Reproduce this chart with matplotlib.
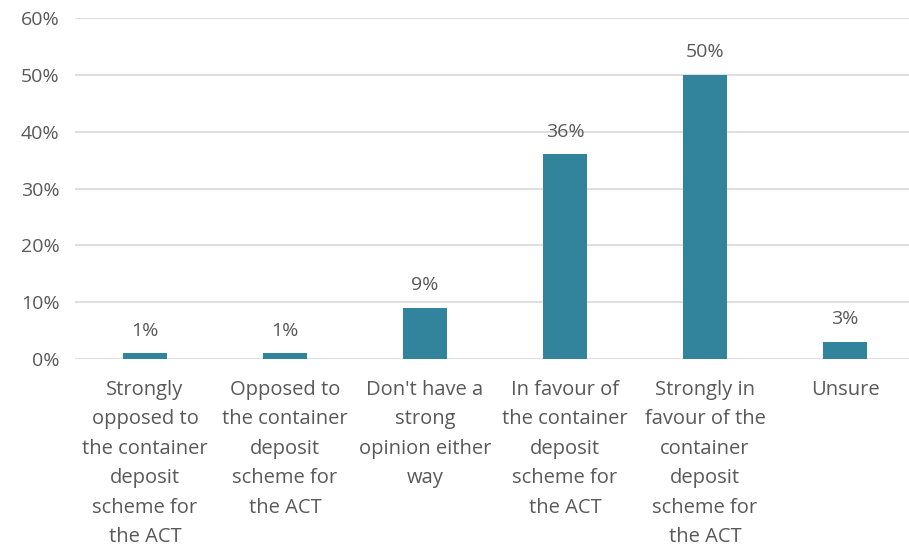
import matplotlib
matplotlib.use("Agg")
import matplotlib.pyplot as plt
from matplotlib.ticker import FuncFormatter

categories = [
    "Strongly\nopposed to\nthe container\ndeposit\nscheme for\nthe ACT",
    "Opposed to\nthe container\ndeposit\nscheme for\nthe ACT",
    "Don't have a\nstrong\nopinion either\nway",
    "In favour of\nthe container\ndeposit\nscheme for\nthe ACT",
    "Strongly in\nfavour of the\ncontainer\ndeposit\nscheme for\nthe ACT",
    "Unsure",
]
values = [1, 1, 9, 36, 50, 3]
value_labels = ["1%", "1%", "9%", "36%", "50%", "3%"]

plt.rcParams['font.family'] = ['Open Sans', 'DejaVu Sans']
txt = '#595959'
bar_col = '#31849B'

fig = plt.figure(figsize=(9.09, 5.47), dpi=100)
ax = fig.add_axes([75/909, 1 - 359/547, 840/909, (359-18)/547])

x = range(len(values))
ax.bar(x, values, width=0.315, color=bar_col, zorder=3)
for xi, v, lab in zip(x, values, value_labels):
    ax.text(xi, v + 2.4, lab, ha='center', va='bottom', fontsize=14, color=txt)

ax.set_xlim(-0.5, len(values) - 0.5)
ax.set_ylim(0, 60)
ax.set_yticks(range(0, 61, 10))
ax.yaxis.set_major_formatter(FuncFormatter(lambda v, p: f"{int(v)}%"))
ax.grid(axis='y', color='#D9D9D9', linewidth=1.2, zorder=0)
for s in ax.spines.values():
    s.set_visible(False)
ax.tick_params(axis='both', length=0, labelsize=14, labelcolor=txt)
ax.tick_params(axis='y', pad=11)
ax.tick_params(axis='x', pad=15)
ax.set_xticks(list(x))
ax.set_xticklabels(categories, linespacing=1.63, fontsize=14.5)

fig.savefig('out.png', dpi=100)
